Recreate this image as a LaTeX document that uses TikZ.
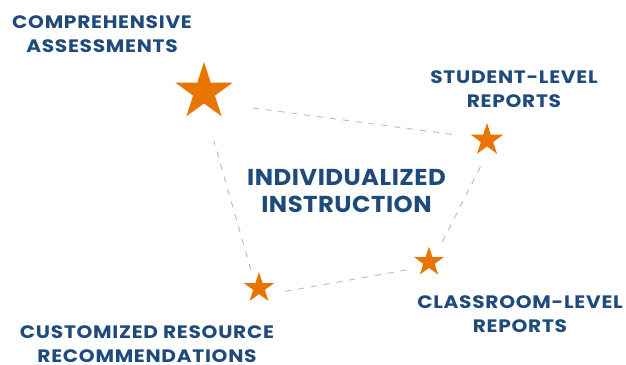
\documentclass[tikz,border=0pt]{standalone}
\usepackage{fontspec}
\setmainfont{Poppins}
\newfontfamily\lblfont[FakeStretch=1.12,LetterSpace=4]{Poppins}
\newfontfamily\mainfont[FakeStretch=1.06,LetterSpace=2]{Poppins}
\usetikzlibrary{shapes.geometric}
\definecolor{navy}{HTML}{1F4A7C}
\definecolor{starorange}{HTML}{E87500}
\definecolor{dashgray}{HTML}{AEBBCE}
\tikzset{
  starnode/.style={star, star points=5, star point ratio=2.618, fill=starorange, draw=none, inner sep=0pt},
  lbl/.style={text=navy, align=center, inner sep=0pt, font=\lblfont\bfseries\fontsize{18}{24}\selectfont},
  mainlbl/.style={text=navy, align=center, inner sep=0pt, font=\mainfont\bfseries\fontsize{23}{27}\selectfont},
  link/.style={draw=dashgray, line width=0.9pt, dash pattern=on 6pt off 7pt}
}
\begin{document}
\begin{tikzpicture}[x=1pt,y=-1pt]
\useasboundingbox (0,0) rectangle (626,364);
\node[starnode, minimum size=60pt] (big) at (204,92) {};
\node[starnode, minimum size=34pt] (s2) at (487,140) {};
\node[starnode, minimum size=31pt] (s3) at (429,262) {};
\node[starnode, minimum size=32pt] (s4) at (259,288) {};

\draw[link, shorten <=49pt, shorten >=31pt] ([yshift=-9.5pt]big.center) -- ([yshift=1pt]s2.center);
\draw[link, shorten <=30pt, shorten >=21pt] ([xshift=7pt]s2.center) -- ([xshift=3pt]s3.center);
\draw[link, shorten <=23pt, shorten >=24pt] ([yshift=-4pt]s3.center) -- ([yshift=-8pt]s4.center);
\draw[link, shorten <=19pt, shorten >=51pt] ([xshift=-3pt]s4.center) -- ([xshift=-4pt]big.center);

\node[lbl] (comp) at (102,34) {COMPREHENSIVE\\ASSESSMENTS};
\node[lbl] (stud) at (514,89) {STUDENT-LEVEL\\REPORTS};
\node[mainlbl] (indiv) at (346.5,191.5) {INDIVIDUALIZED\\INSTRUCTION};
\node[lbl] (cust) at (147,344) {CUSTOMIZED RESOURCE\\RECOMMENDATIONS};
\node[lbl] (class) at (520,314) {CLASSROOM-LEVEL\\REPORTS};
\end{tikzpicture}
\end{document}
